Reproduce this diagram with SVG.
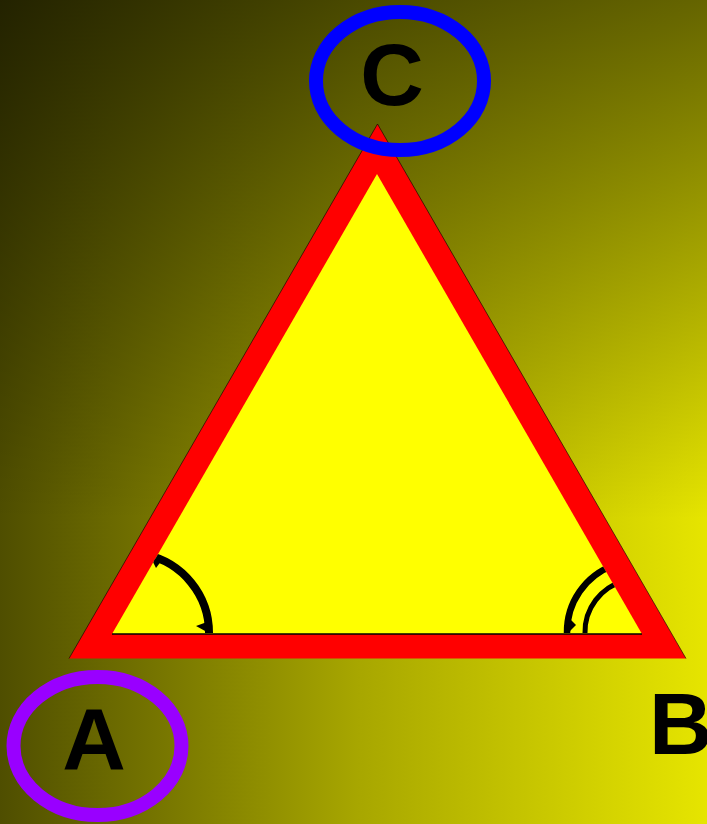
<svg xmlns="http://www.w3.org/2000/svg" width="707" height="824" viewBox="0 0 707 824">
  <defs>
    <linearGradient id="bgH" x1="0" y1="0" x2="707" y2="0" gradientUnits="userSpaceOnUse">
      <stop offset="0" stop-color="#4f4e00"/>
      <stop offset="0.51" stop-color="#a8a700"/>
      <stop offset="1" stop-color="#e6e500"/>
    </linearGradient>
    <linearGradient id="bgV" x1="0" y1="0" x2="0" y2="824" gradientUnits="userSpaceOnUse">
      <stop offset="0" stop-color="#000" stop-opacity="0.56"/>
      <stop offset="0.63" stop-color="#000" stop-opacity="0"/>
    </linearGradient>
    <clipPath id="inner">
      <polygon points="112,634 642,634 377,174"/>
    </clipPath>
    <style>
      .lbl { font-family: "Liberation Sans", Arial, sans-serif; font-weight: bold; font-size: 88px; fill: #000; }
      .ring { fill: none; stroke-width: 14; }
      .arc { fill: none; stroke: #000; }
    </style>
  </defs>
  <rect x="0" y="0" width="707" height="824" fill="url(#bgH)"/>
  <rect x="0" y="0" width="707" height="824" fill="url(#bgV)"/>

  <g id="triangle">
    <polygon points="69,658.5 686,658.5 377.5,124" fill="#ff0000"/>
    <polyline points="69,658.5 377.5,124 686,658.5" fill="none" stroke="#000" stroke-width="1" stroke-opacity="0.6"/>
    <polygon points="112,634 642,634 377,174" fill="#ffff00"/>
    <line x1="112" y1="634" x2="642" y2="634" stroke="#000" stroke-width="1.5"/>
  </g>

  <g id="angles" clip-path="url(#inner)">
    <path class="arc" d="M 145.6 554.7 A 80 80 0 0 1 209 633" stroke-width="8"/>
    <polygon points="207,622 196,626 207,632" fill="#000"/>
    <polygon points="151,558 156,568 162,560" fill="#000"/>
    <path class="arc" d="M 567 633 A 71 71 0 0 1 613.7 565.3" stroke-width="6.5"/>
    <polygon points="569,618 576,625 569,632" fill="#000"/>
    <path class="arc" d="M 585 633 A 53 53 0 0 1 624.3 580.8" stroke-width="5"/>
  </g>

  <g id="nodeC">
    <ellipse class="ring" cx="400" cy="81" rx="84" ry="69" stroke="#0000ff"/>
    <text class="lbl" x="392" y="105" text-anchor="middle">C</text>
  </g>
  <g id="nodeA">
    <ellipse class="ring" cx="97.5" cy="746" rx="84" ry="69" stroke="#9900ff"/>
    <text class="lbl" x="94" y="769" text-anchor="middle">A</text>
  </g>
  <g id="nodeB">
    <text class="lbl" x="649" y="754">B</text>
  </g>
</svg>
